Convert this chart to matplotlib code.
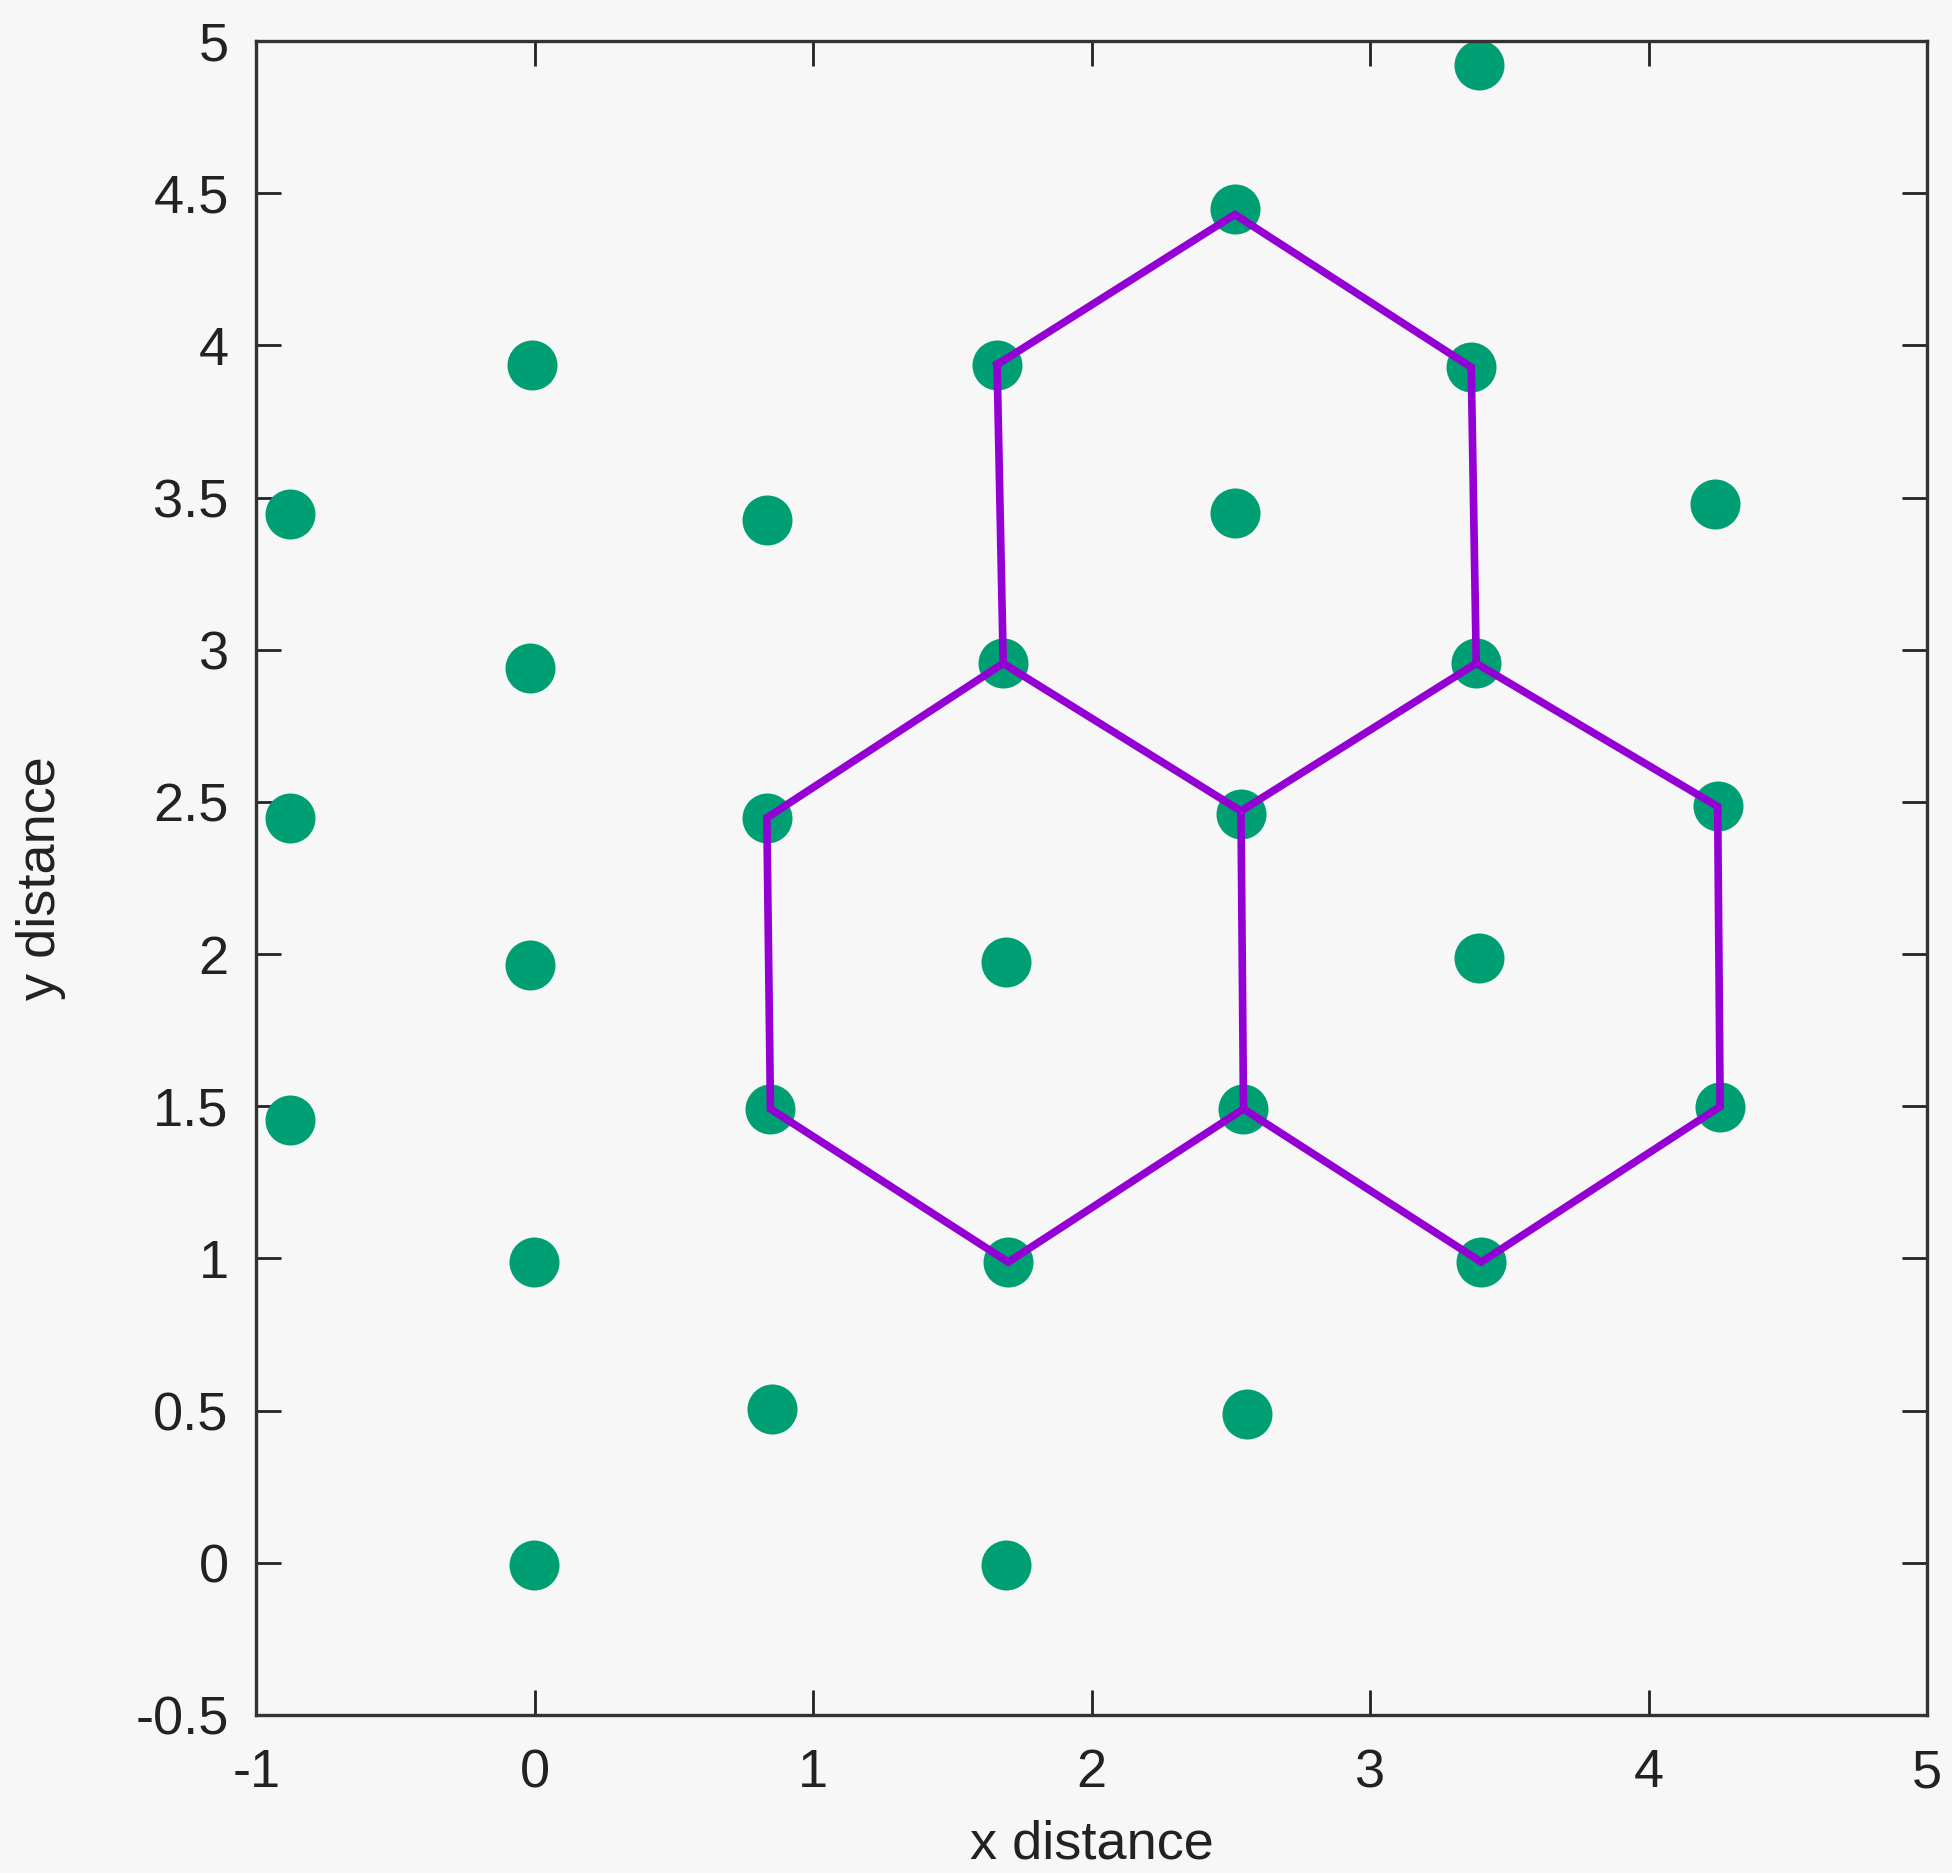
import matplotlib
matplotlib.use("Agg")
import matplotlib.pyplot as plt

# lattice points (green dots)
pts_x = [3.39, 2.514, -0.012, 1.66, 3.363, -0.879, 0.833, 2.514, 4.239,
         -0.017, 1.682, 3.381, -0.879, 0.833, 2.536, 4.248,
         -0.017, 1.691, 3.39, -0.879, 0.846, 2.545, 4.257,
         -0.003, 1.70, 3.399, 0.851, 2.558, -0.003, 1.691]
pts_y = [4.92, 4.448, 3.937, 3.937, 3.928, 3.446, 3.425, 3.45, 3.479,
         2.939, 2.955, 2.955, 2.448, 2.448, 2.46, 2.485,
         1.965, 1.973, 1.986, 1.454, 1.491, 1.491, 1.499,
         0.988, 0.988, 0.988, 0.505, 0.489, -0.006, -0.006]

# hexagon outlines (purple)
hex_top_x = [1.66, 2.514, 3.363, 3.381, 2.536, 1.682, 1.66]
hex_top_y = [3.937, 4.43, 3.928, 2.955, 2.47, 2.955, 3.937]
hex_left_x = [1.682, 0.833, 0.846, 1.70, 2.545, 2.536]
hex_left_y = [2.955, 2.448, 1.491, 0.988, 1.491, 2.47]
hex_right_x = [3.381, 4.248, 4.257, 3.399, 2.545]
hex_right_y = [2.955, 2.485, 1.499, 0.988, 1.491]

xticks = [-1, 0, 1, 2, 3, 4, 5]
yticks = [-0.5, 0, 0.5, 1, 1.5, 2, 2.5, 3, 3.5, 4, 4.5, 5]

plt.rcParams["font.family"] = ["Liberation Sans", "DejaVu Sans"]
plt.rcParams["axes.unicode_minus"] = False

BG = "#f7f7f7"
fig = plt.figure(figsize=(19.52, 18.73), dpi=100, facecolor=BG)
ax = fig.add_axes([0.1314, 0.0844, 0.8558, 0.8937], facecolor=BG)

for hx, hy in [(hex_top_x, hex_top_y), (hex_left_x, hex_left_y), (hex_right_x, hex_right_y)]:
    ax.plot(hx, hy, "-", color="#9400d3", lw=5.5, solid_joinstyle="miter", zorder=3)
ax.plot(pts_x, pts_y, "o", color="#009e73", ms=36, mec="none", zorder=2)

ax.set_xlim(-1, 5); ax.set_ylim(-0.5, 5)
ax.set_xticks(xticks); ax.set_yticks(yticks)
ax.set_xticklabels([str(v) for v in xticks])
ax.set_yticklabels([f"{v:g}" for v in yticks])
ax.tick_params(direction="in", length=18, width=2, top=True, right=True,
               labelsize=39, colors="#222222", pad=20)
ax.tick_params(axis="x", pad=24)
for s in ax.spines.values():
    s.set_linewidth(2.4); s.set_color("#333333")

ax.set_xlabel("x distance", fontsize=39, color="#222222", labelpad=15)
ax.set_ylabel("y distance", fontsize=39, color="#222222", labelpad=50)

fig.savefig("out.png", dpi=100, facecolor=BG)
